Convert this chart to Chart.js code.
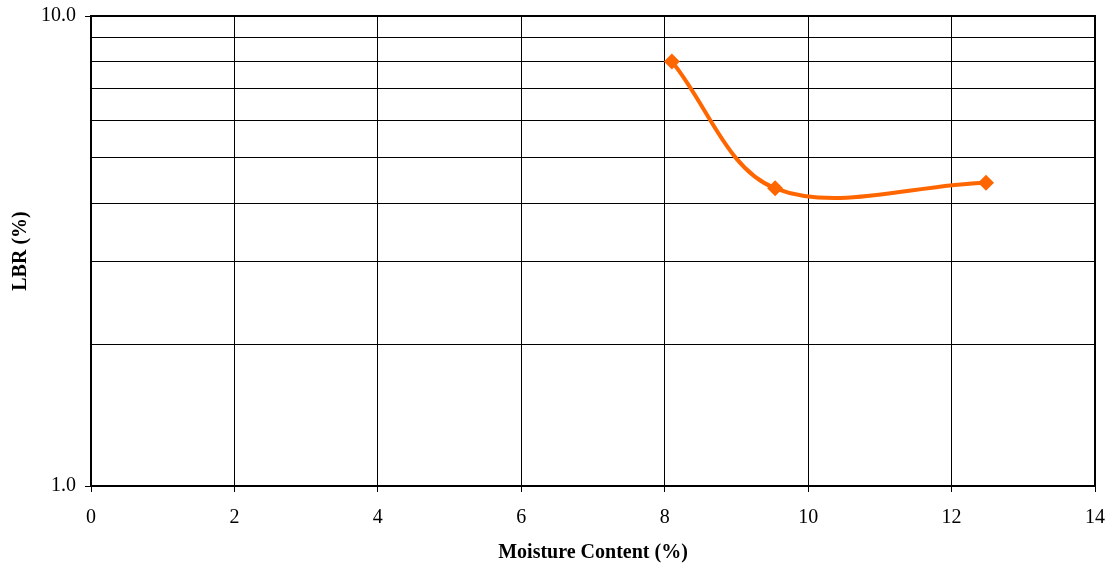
<!DOCTYPE html>
<html>
<head>
<meta charset="utf-8">
<script src="https://cdn.jsdelivr.net/npm/chart.js@4/dist/chart.umd.min.js"></script>
<style>
  html, body { margin: 0; padding: 0; background: #fff; }
  #wrap { width: 1110px; height: 565px; position: relative; }
</style>
</head>
<body>
<div id="wrap"><canvas id="c" width="1110" height="565"></canvas></div>
<script>
const moistureContent = [8.10, 9.54, 12.48];
const lbrValues = [8.0, 4.30, 4.42];
const xTicks = [0, 2, 4, 6, 8, 10, 12, 14];
const yTicks = [1, 2, 3, 4, 5, 6, 7, 8, 9, 10];
const yLabelledTicks = [1, 10];
const xTitle = 'Moisture Content (%)';
const yTitle = 'LBR (%)';

const FONT = "'Liberation Serif', 'Times New Roman', serif";

const frame = {
  id: 'frame',
  afterDraw(chart) {
    const a = chart.chartArea, ctx = chart.ctx;
    ctx.save();
    ctx.strokeStyle = '#000';
    ctx.lineWidth = 2;
    ctx.strokeRect(a.left, a.top, a.right - a.left, a.bottom - a.top);
    ctx.restore();
  }
};

new Chart(document.getElementById('c'), {
  type: 'scatter',
  data: {
    datasets: [{
      data: moistureContent.map((x, i) => ({ x: x, y: lbrValues[i] })),
      showLine: true,
      borderColor: '#FF6600',
      backgroundColor: '#FF6600',
      borderWidth: 4,
      tension: 0.35,
      pointStyle: 'rectRot',
      pointRadius: 8,
      pointHoverRadius: 8,
      pointBorderWidth: 0
    }]
  },
  options: {
    responsive: false,
    animation: false,
    devicePixelRatio: 1,
    layout: { padding: { top: 16, right: 15, left: 0, bottom: 0 } },
    plugins: { legend: { display: false }, tooltip: { enabled: false } },
    scales: {
      x: {
        type: 'linear',
        min: 0, max: 14,
        afterBuildTicks(scale) { scale.ticks = xTicks.map(v => ({ value: v })); },
        afterFit(scale) { scale.height = 79; scale.paddingRight = 0; scale.paddingLeft = 0; },
        grid: { color: '#000', lineWidth: 1, tickLength: 6, tickColor: '#000', drawTicks: true },
        border: { display: false },
        ticks: { color: '#000', font: { family: FONT, size: 20 }, padding: 14, maxRotation: 0 },
        title: { display: true, text: xTitle, color: '#000', font: { family: FONT, size: 20, weight: 'bold' }, padding: { top: 0, bottom: 0 } }
      },
      y: {
        type: 'logarithmic',
        min: 1, max: 10,
        afterBuildTicks(scale) { scale.ticks = yTicks.map(v => ({ value: v })); },
        afterFit(scale) { scale.width = 91; scale.paddingTop = 0; scale.paddingBottom = 0; },
        grid: {
          color: '#000', lineWidth: 1, tickLength: 6,
          tickColor: ctx => (ctx.tick && yLabelledTicks.includes(ctx.tick.value)) ? '#000' : 'rgba(0,0,0,0)'
        },
        border: { display: false },
        ticks: {
          color: '#000', font: { family: FONT, size: 20 }, padding: 9, autoSkip: false,
          callback: v => yLabelledTicks.includes(v) ? v.toFixed(1) : ''
        },
        title: { display: true, text: yTitle, color: '#000', font: { family: FONT, size: 20, weight: 'bold' }, padding: { top: 9, bottom: 0 } }
      }
    }
  },
  plugins: [frame]
});
</script>
</body>
</html>
